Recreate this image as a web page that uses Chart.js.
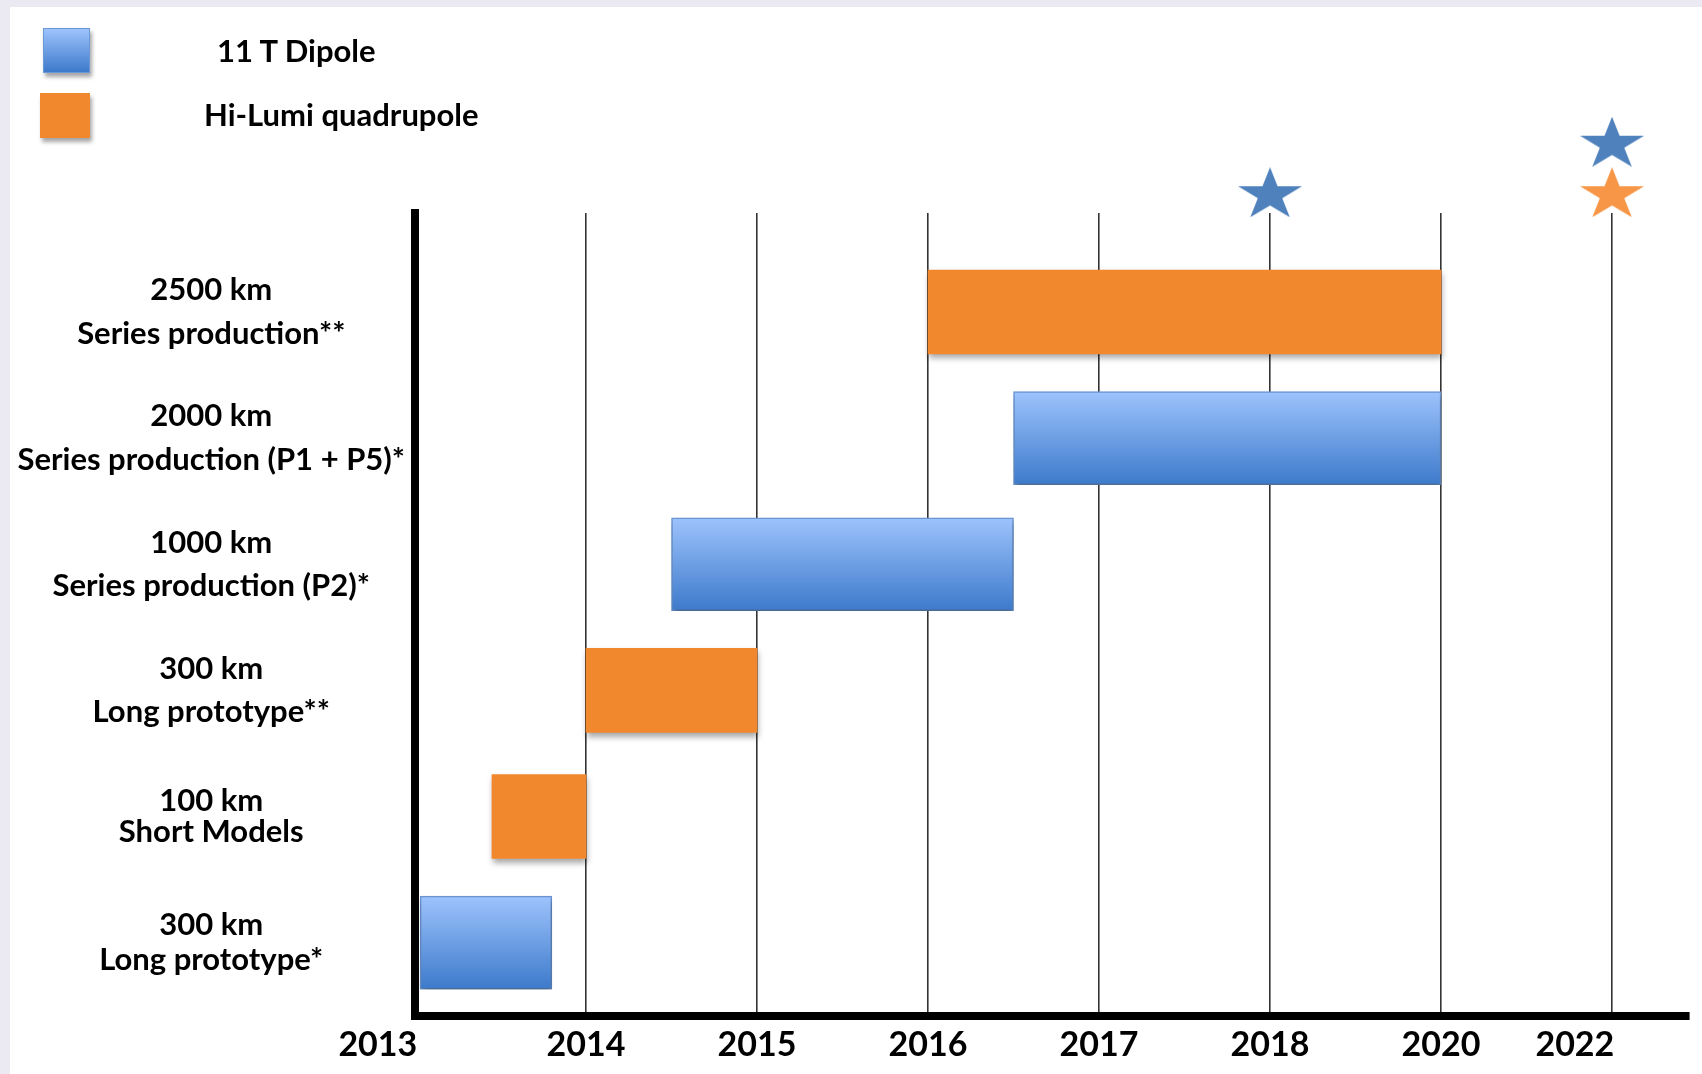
<!DOCTYPE html>
<html>
<head>
<meta charset="utf-8">
<title>Magnet production timeline</title>
<script src="https://cdn.jsdelivr.net/npm/chart.js@4.4.1/dist/chart.umd.min.js"></script>
<style>
    html, body { margin: 0; padding: 0; }
    body {
        width: 1702px;
        height: 1074px;
        position: relative;
        overflow: hidden;
        background: #ebe9f1;
        font-family: Lato, 'Noto Sans', sans-serif;
    }
    #panel {
        position: absolute;
        left: 10px;
        top: 7px;
        width: 1692px;
        height: 1067px;
        background: #ffffff;
    }
    #timeline { position: absolute; left: 0; top: 0; }
    .swatch {
        position: absolute;
        box-sizing: border-box;
        box-shadow: 2px 4px 4px rgba(0, 0, 0, 0.35);
    }
    .legend-text {
        position: absolute;
        font-weight: 700;
        font-size: 31px;
        line-height: 36px;
        color: #000;
        white-space: nowrap;
    }
</style>
</head>
<body>
<div id="panel">
    <canvas id="timeline" width="1692" height="1067"></canvas>
    <div id="legend"></div>
</div>
<script>
// Axis labels
const yearLabels = ['2013', '2014', '2015', '2016', '2017', '2018', '2020', '2022'];
const rowSizes = ['2500 km', '2000 km', '1000 km', '300 km', '100 km', '300 km'];
const rowPhases = ['Series production**', 'Series production (P1 + P5)*', 'Series production (P2)*',
                   'Long prototype**', 'Short Models', 'Long prototype*'];
const seriesNames = ['11 T Dipole', 'Hi-Lumi quadrupole'];

// 11 T dipole phases: row, start year, end year
const dipoleRows = [1, 2, 5];
const dipoleStart = [2016.5, 2014.5, 2013.03];
const dipoleEnd = [2020, 2016.5, 2013.8];

// Hi-Lumi quadrupole phases
const quadRows = [0, 3, 4];
const quadStart = [2016, 2014, 2013.45];
const quadEnd = [2020, 2015, 2014];

// Installation milestones (stars above the plot)
const dipoleMilestones = [2018, 2022];
const quadMilestones = [2022];

const BLUE_TOP = '#9dc3fc';
const BLUE_BOTTOM = '#3d7acb';
const BLUE_EDGE = '#6b98d6';
const ORANGE = '#f2882d';
const DIPOLE_THICKNESS = 93;
const QUAD_THICKNESS = 84;
const STAR_ROW = -0.95;
const STAR_ROW_UPPER = -1.35;

// one step per year up to 2018, then one step per two years
function yearPos(year) {
    return year <= 2018 ? year - 2013 : 5 + (year - 2018) / 2;
}

const dipoleBars = dipoleRows.map((row, i) => ({ x: [yearPos(dipoleStart[i]), yearPos(dipoleEnd[i])], y: row }));
const quadBars = quadRows.map((row, i) => ({ x: [yearPos(quadStart[i]), yearPos(quadEnd[i])], y: row }));
const quadStars = quadMilestones.map(yr => ({ x: yearPos(yr), y: STAR_ROW }));
const dipoleStars = dipoleMilestones.map(yr => ({
    x: yearPos(yr),
    y: quadMilestones.includes(yr) ? STAR_ROW_UPPER : STAR_ROW
}));

// filled five-point star used as point style
function starImage(color) {
    const w = 64, h = 50;
    const c = document.createElement('canvas');
    c.width = w;
    c.height = h;
    const g = c.getContext('2d');
    g.translate(w / 2, h / 1.809);
    g.scale(w / 1.902, h / 1.809);
    g.beginPath();
    for (let k = 0; k < 10; k++) {
        const rad = k % 2 ? 0.382 : 1;
        const a = -Math.PI / 2 + k * Math.PI / 5;
        g.lineTo(rad * Math.cos(a), rad * Math.sin(a));
    }
    g.closePath();
    g.fillStyle = color;
    g.fill();
    return c;
}

// vertical gradient per dipole bar
function dipoleFill(ctx) {
    const yScale = ctx.chart.scales.y;
    if (!ctx.raw || !yScale || !ctx.chart.chartArea) return '#6f9fe6';
    const mid = yScale.getPixelForValue(ctx.raw.y);
    if (!Number.isFinite(mid)) return '#6f9fe6';
    const half = DIPOLE_THICKNESS / 2;
    const grad = ctx.chart.ctx.createLinearGradient(0, mid - half, 0, mid + half);
    grad.addColorStop(0, BLUE_TOP);
    grad.addColorStop(1, BLUE_BOTTOM);
    return grad;
}

// soft drop shadow under the bars
const barShadow = {
    id: 'barShadow',
    beforeDatasetDraw(chart, args) {
        if (args.meta.type !== 'bar') return;
        const c = chart.ctx;
        c.save();
        c.shadowColor = 'rgba(0, 0, 0, 0.35)';
        c.shadowBlur = 6;
        c.shadowOffsetX = 1;
        c.shadowOffsetY = 4;
    },
    afterDatasetDraw(chart, args) {
        if (args.meta.type === 'bar') chart.ctx.restore();
    }
};

const labelFont = 'Lato, "Noto Sans", sans-serif';
const rowLineHeights = [1.4, 1.4, 1.4, 1.4, 1.02, 1.12];

Chart.defaults.font.family = labelFont;

const timelineChart = new Chart(document.getElementById('timeline'), {
    type: 'bar',
    data: {
        datasets: [
            {
                label: seriesNames[0],
                data: dipoleBars,
                backgroundColor: dipoleFill,
                borderColor: BLUE_EDGE,
                borderWidth: 1.5,
                borderSkipped: false,
                barThickness: DIPOLE_THICKNESS,
                grouped: false
            },
            {
                label: seriesNames[1],
                data: quadBars,
                backgroundColor: ORANGE,
                borderWidth: 0,
                barThickness: QUAD_THICKNESS,
                grouped: false
            },
            {
                type: 'scatter',
                data: quadStars,
                pointStyle: starImage('#f79646'),
                // large radius keeps the stars above the plot area from being culled
                pointRadius: 90,
                clip: false
            },
            {
                type: 'scatter',
                data: dipoleStars,
                pointStyle: starImage('#4f81bd'),
                pointRadius: 90,
                clip: false
            }
        ]
    },
    options: {
        indexAxis: 'y',
        responsive: false,
        animation: false,
        events: [],
        layout: {
            autoPadding: false,
            padding: { top: 206, right: 13, bottom: 0, left: 0 }
        },
        plugins: {
            legend: { display: false },
            tooltip: { enabled: false }
        },
        scales: {
            x: {
                type: 'linear',
                min: 0,
                max: 7.45,
                offset: false,
                afterBuildTicks: scale => {
                    scale.ticks = yearLabels.map((_, i) => ({ value: i }));
                },
                afterFit: scale => {
                    scale.height = 58;
                    scale.paddingLeft = 0;
                    scale.paddingRight = 0;
                },
                grid: { color: '#333', lineWidth: 1.6, drawTicks: false, offset: false },
                border: { display: true, color: '#000', width: 8 },
                ticks: {
                    autoSkip: false,
                    maxRotation: 0,
                    padding: 9,
                    color: '#000',
                    font: { family: labelFont, size: 34, weight: 'bold' },
                    callback: value => {
                        const label = yearLabels[value];
                        // first and last years sit left of their grid line
                        const edge = value === 0 || value === yearLabels.length - 1;
                        return edge ? label + ' '.repeat(9) : label;
                    }
                }
            },
            y: {
                type: 'linear',
                reverse: true,
                min: -0.785,
                max: 5.582,
                offset: false,
                afterBuildTicks: scale => {
                    scale.ticks = rowSizes.map((_, i) => ({ value: i }));
                },
                afterFit: scale => {
                    scale.width = 405;
                    scale.paddingTop = 0;
                    scale.paddingBottom = 0;
                },
                grid: { display: false, drawTicks: false, offset: false },
                border: { display: true, color: '#000', width: 8 },
                ticks: {
                    autoSkip: false,
                    crossAlign: 'center',
                    padding: 10,
                    color: '#000',
                    font: ctx => ({ family: labelFont, size: 31, weight: 'bold', lineHeight: rowLineHeights[ctx.index] }),
                    callback: value => [rowSizes[value], rowPhases[value]]
                }
            }
        }
    },
    plugins: [barShadow]
});

// Legend
const legendSpots = [
    { box: [33, 21, 47, 45], text: [207, 25] },
    { box: [30, 86, 50, 45], text: [194, 89] }
];
const legendFills = [
    { background: `linear-gradient(${BLUE_TOP}, ${BLUE_BOTTOM})`, border: `1px solid ${BLUE_EDGE}` },
    { background: ORANGE, border: 'none' }
];
const legendEl = document.getElementById('legend');
seriesNames.forEach((name, i) => {
    const spot = legendSpots[i];
    const sw = document.createElement('div');
    sw.className = 'swatch';
    Object.assign(sw.style, {
        left: spot.box[0] + 'px', top: spot.box[1] + 'px',
        width: spot.box[2] + 'px', height: spot.box[3] + 'px',
        background: legendFills[i].background, border: legendFills[i].border
    });
    const txt = document.createElement('div');
    txt.className = 'legend-text';
    txt.textContent = name;
    txt.style.left = spot.text[0] + 'px';
    txt.style.top = spot.text[1] + 'px';
    legendEl.appendChild(sw);
    legendEl.appendChild(txt);
});
</script>
</body>
</html>
